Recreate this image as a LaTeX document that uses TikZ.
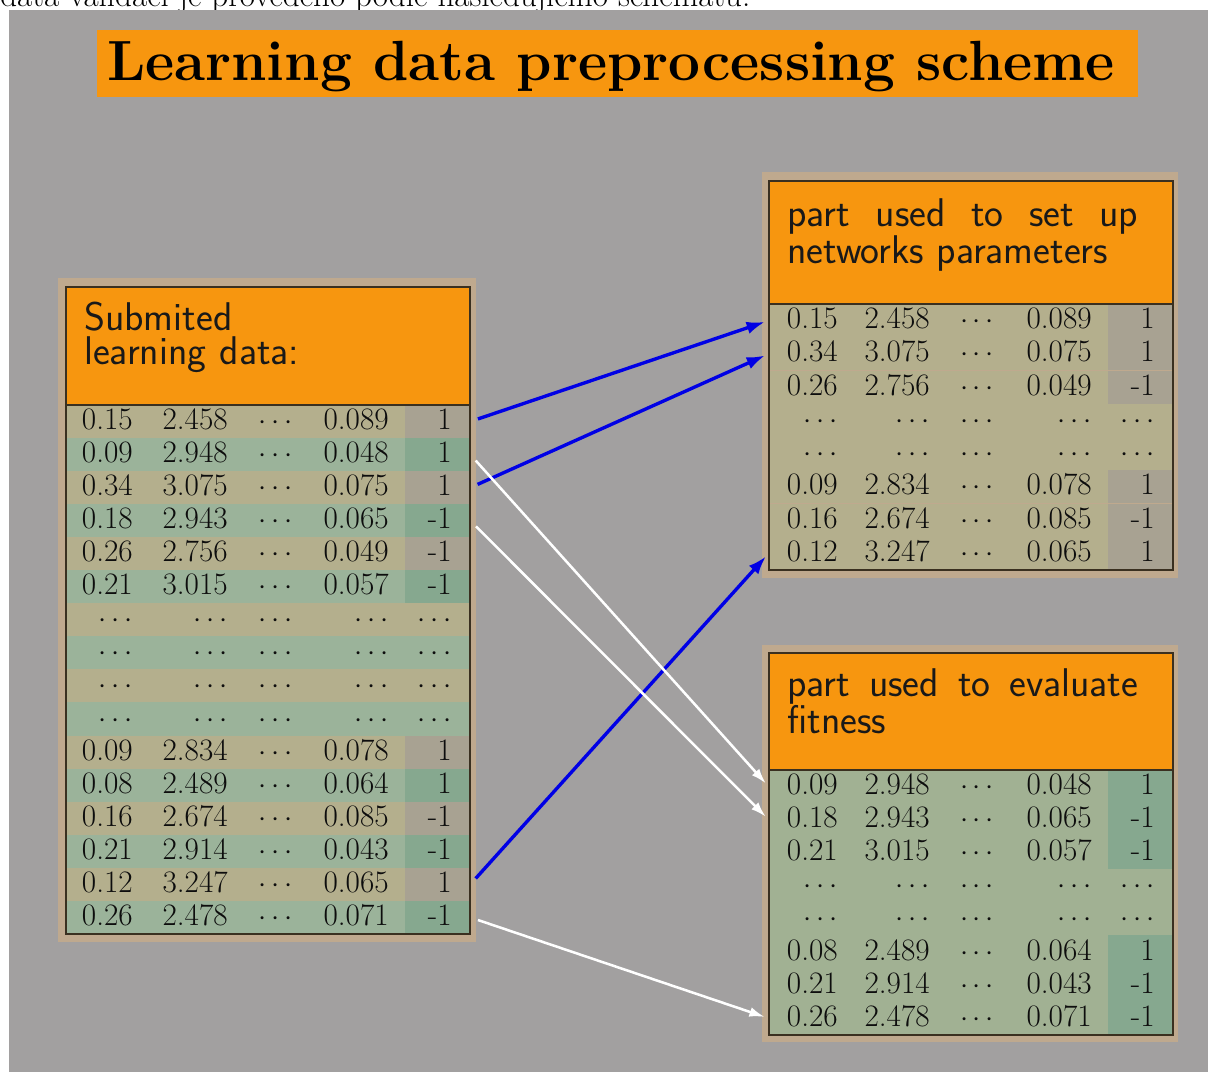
\documentclass[tikz,border=0pt]{standalone}
\usepackage{fontspec}
\usetikzlibrary{arrows.meta}

\definecolor{slidegray}{HTML}{A2A0A0}
\definecolor{headorange}{HTML}{F7960F}
\definecolor{frametan}{HTML}{BFA98E}
\definecolor{trainrow}{HTML}{B4AF8D}
\definecolor{traincls}{HTML}{A8A292}
\definecolor{testrow}{HTML}{9BB39A}
\definecolor{testcls}{HTML}{86A88F}
\definecolor{fitrow}{HTML}{A1B193}
\definecolor{boxline}{HTML}{3A3020}

\tikzset{
  datarow/.style={minimum width=10.1cm, minimum height=0.83cm, inner sep=0pt},
  clscell/.style={minimum width=1.625cm, minimum height=0.83cm, inner sep=0pt},
  cell/.style={inner sep=0pt, text=black!95, font=\fontsize{22.2}{26}\selectfont},
  headtext/.style={inner sep=0pt, text=black!90, font={\fontsize{28.5}{24.5}\selectfont\sffamily\hyphenpenalty=10000\relax}, text width=8.775cm},
  trainarrow/.style={draw=blue!90!black, line width=2.4pt, -{Latex[length=13pt,width=9pt]}, shorten <=0.2cm, shorten >=0.1cm},
  fitarrow/.style={draw=white, line width=1.8pt, -{Latex[length=11pt,width=7pt]}, shorten <=0.2cm, shorten >=0.1cm},
}

\begin{document}
\begin{tikzpicture}[x=0.025cm, y=-0.025cm]
  \useasboundingbox (0,0) rectangle (1208,1072);
  \fill [white] (0,0) rectangle (1208,1072);
  \node (intro) [anchor=base west, inner sep=0pt, font=\fontsize{23.5}{28}\selectfont] at (0,6) {data validací je provedeno podle následujícího schématu.};
  \fill [slidegray] (9,10) rectangle (1208,1072);

  % title
  \node (titlebox) [fill=headorange, minimum width=26.025cm, minimum height=1.675cm, inner sep=0pt] at (617.5,63.5) {};
  \node (title) [anchor=base, inner sep=0pt, font=\fontsize{40.3}{48}\selectfont\bfseries] at (611,80) {Learning data preprocessing scheme};

  % frames and headers
  \fill [frametan] (58,278) rectangle (476,942);
  \fill [frametan] (762,172) rectangle (1178,578);
  \fill [frametan] (762,645) rectangle (1178,1042);
  \fill [headorange] (66,287) rectangle (470,405);
  \fill [headorange] (769,181) rectangle (1173,304);
  \fill [headorange] (769,653) rectangle (1173,770);

  \node (Lhead) [headtext, anchor=base west, align=left] at (84,330) {Submited\\learning data:};
  \node (Thead) [headtext, anchor=base west, align=justify] at (787,226) {part used to set up networks parameters};
  \node (Fhead) [headtext, anchor=base west, align=justify] at (787,696) {part used to evaluate fitness};

  % submitted data
  \foreach \row/\va/\vb/\vd/\ve/\rc/\kc in {
      1/0.15/2.458/0.089/1/trainrow/traincls,
      2/0.09/2.948/0.048/1/testrow/testcls,
      3/0.34/3.075/0.075/1/trainrow/traincls,
      4/0.18/2.943/0.065/-1/testrow/testcls,
      5/0.26/2.756/0.049/-1/trainrow/traincls,
      6/0.21/3.015/0.057/-1/testrow/testcls,
      7/$\cdots$/$\cdots$/$\cdots$/$\cdots$/trainrow/trainrow,
      8/$\cdots$/$\cdots$/$\cdots$/$\cdots$/testrow/testrow,
      9/$\cdots$/$\cdots$/$\cdots$/$\cdots$/trainrow/trainrow,
      10/$\cdots$/$\cdots$/$\cdots$/$\cdots$/testrow/testrow,
      11/0.09/2.834/0.078/1/trainrow/traincls,
      12/0.08/2.489/0.064/1/testrow/testcls,
      13/0.16/2.674/0.085/-1/trainrow/traincls,
      14/0.21/2.914/0.043/-1/testrow/testcls,
      15/0.12/3.247/0.065/1/trainrow/traincls,
      16/0.26/2.478/0.071/-1/testrow/testcls} {
    \pgfmathsetmacro\y{405+(\row-1)*33.06}
    \node (L\row) [datarow, fill=\rc] at (268,\y+16.53) {};
    \node (L\row-c) [clscell, fill=\kc] at (437.5,\y+16.53) {};
    \node (L\row-1) [cell, anchor=base east] at (133,\y+24.5) {\va};
    \node (L\row-2) [cell, anchor=base east] at (228,\y+24.5) {\vb};
    \node (L\row-3) [cell, anchor=base] at (276,\y+24.5) {$\cdots$};
    \node (L\row-4) [cell, anchor=base east] at (389,\y+24.5) {\vd};
    \node (L\row-5) [cell, anchor=base east] at (452,\y+24.5) {\ve};
  }

  % training part
  \foreach \row/\va/\vb/\vd/\ve/\kc in {
      1/0.15/2.458/0.089/1/traincls,
      2/0.34/3.075/0.075/1/traincls,
      3/0.26/2.756/0.049/-1/traincls,
      4/$\cdots$/$\cdots$/$\cdots$/$\cdots$/trainrow,
      5/$\cdots$/$\cdots$/$\cdots$/$\cdots$/trainrow,
      6/0.09/2.834/0.078/1/traincls,
      7/0.16/2.674/0.085/-1/traincls,
      8/0.12/3.247/0.065/1/traincls} {
    \pgfmathsetmacro\y{304+(\row-1)*33.25}
    \node (T\row) [datarow, fill=trainrow] at (971,\y+16.6) {};
    \node (T\row-c) [clscell, fill=\kc] at (1140.5,\y+16.6) {};
    \node (T\row-1) [cell, anchor=base east] at (838,\y+24.5) {\va};
    \node (T\row-2) [cell, anchor=base east] at (930,\y+24.5) {\vb};
    \node (T\row-3) [cell, anchor=base] at (977,\y+24.5) {$\cdots$};
    \node (T\row-4) [cell, anchor=base east] at (1092,\y+24.5) {\vd};
    \node (T\row-5) [cell, anchor=base east] at (1155,\y+24.5) {\ve};
  }

  % fitness part
  \foreach \row/\va/\vb/\vd/\ve/\kc in {
      1/0.09/2.948/0.048/1/testcls,
      2/0.18/2.943/0.065/-1/testcls,
      3/0.21/3.015/0.057/-1/testcls,
      4/$\cdots$/$\cdots$/$\cdots$/$\cdots$/fitrow,
      5/$\cdots$/$\cdots$/$\cdots$/$\cdots$/fitrow,
      6/0.08/2.489/0.064/1/testcls,
      7/0.21/2.914/0.043/-1/testcls,
      8/0.26/2.478/0.071/-1/testcls} {
    \pgfmathsetmacro\y{770+(\row-1)*33.1}
    \node (F\row) [datarow, fill=fitrow] at (971,\y+16.55) {};
    \node (F\row-c) [clscell, fill=\kc] at (1140.5,\y+16.55) {};
    \node (F\row-1) [cell, anchor=base east] at (838,\y+24.5) {\va};
    \node (F\row-2) [cell, anchor=base east] at (930,\y+24.5) {\vb};
    \node (F\row-3) [cell, anchor=base] at (977,\y+24.5) {$\cdots$};
    \node (F\row-4) [cell, anchor=base east] at (1092,\y+24.5) {\vd};
    \node (F\row-5) [cell, anchor=base east] at (1155,\y+24.5) {\ve};
  }

  % outlines
  \draw [boxline, line width=0.8pt] (66,287) rectangle (470,934) (66,405) -- (470,405);
  \draw [boxline, line width=0.8pt] (769,181) rectangle (1173,570) (769,304) -- (1173,304);
  \draw [boxline, line width=0.8pt] (769,653) rectangle (1173,1035) (769,770) -- (1173,770);

  % arrows
  \draw [trainarrow] (L1.east) -- (T1.west);
  \draw [trainarrow] (L3.east) -- (T2.west);
  \draw [trainarrow] (L15.east) -- (T8.west);
  \draw [fitarrow] (L2.east) -- (F1.west);
  \draw [fitarrow] (L4.east) -- (F2.west);
  \draw [fitarrow] (L16.east) -- (F8.west);
\end{tikzpicture}
\end{document}
